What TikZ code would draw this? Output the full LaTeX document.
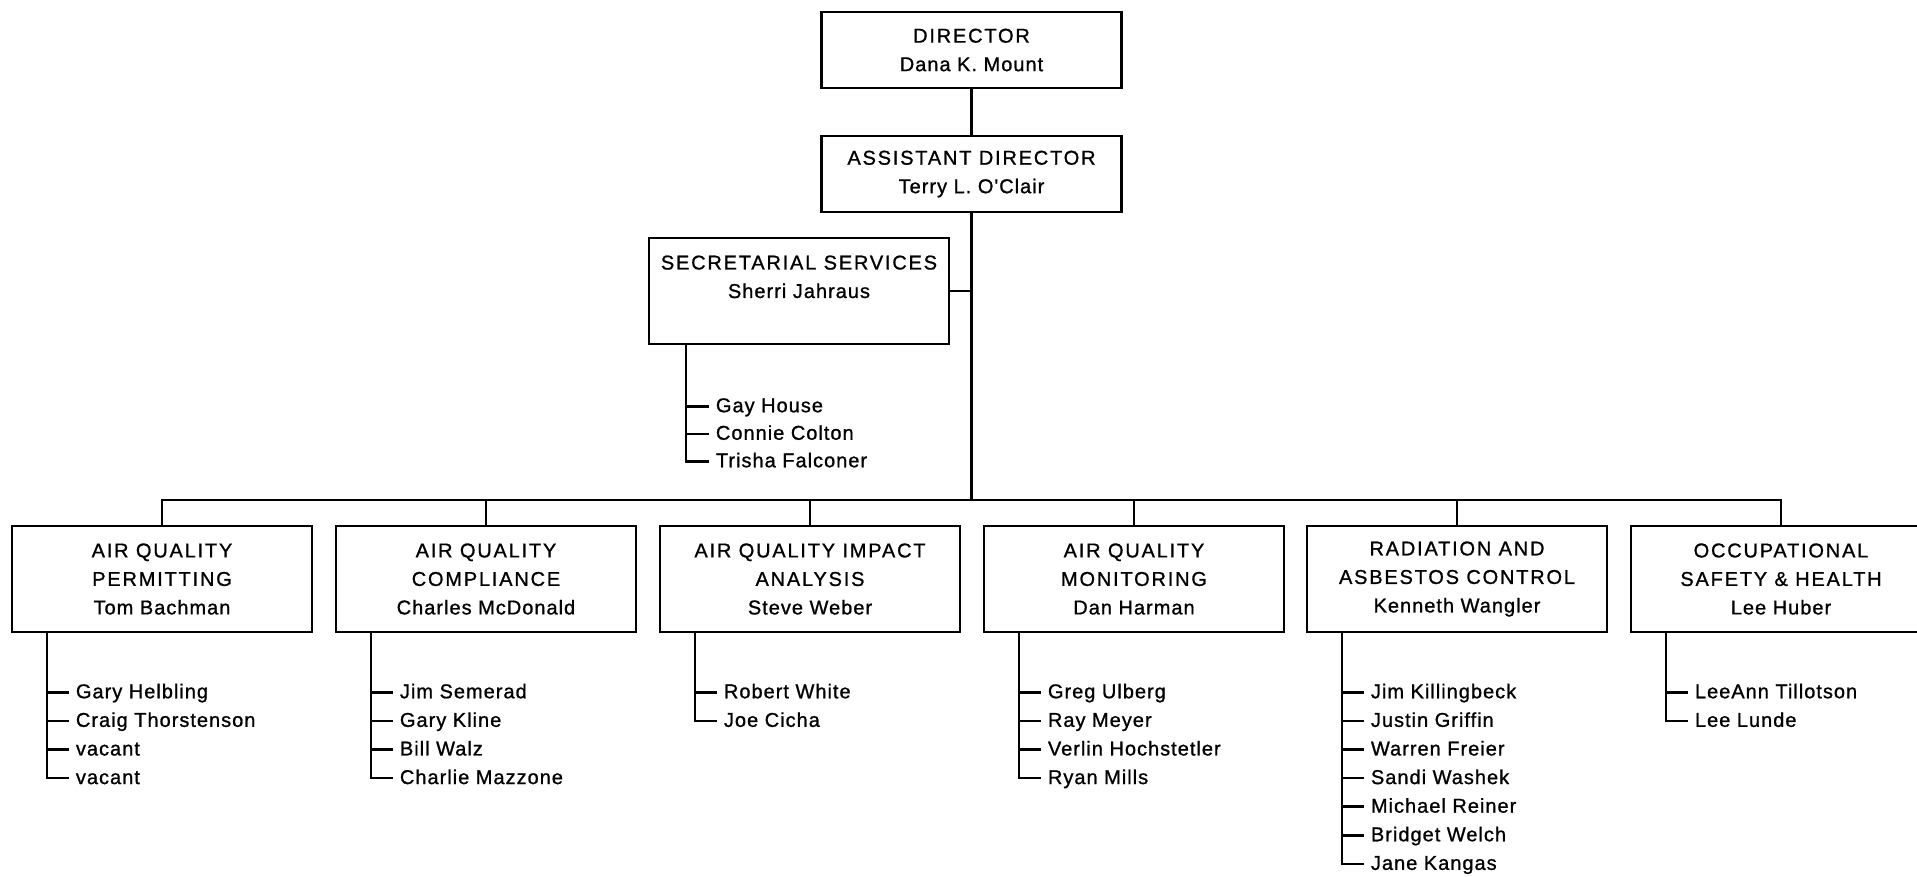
\documentclass[tikz,border=0pt]{standalone}
\usepackage{fontspec}
\setmainfont{Liberation Sans}
\newfontfamily\headfont[LetterSpace=9,FakeBold=1]{Liberation Sans}
\newfontfamily\namefont[LetterSpace=5,FakeBold=1]{Liberation Sans}
\usetikzlibrary{positioning,calc}

\newcommand\unitname[1]{{\headfont #1}}

\tikzset{
	unit/.style={draw, line width=2.5pt, minimum width=300pt, inner sep=0pt, align=center,
		font=\fontsize{20}{28.5}\selectfont\namefont},
	office/.style={unit, minimum height=76pt},
	dept/.style={unit, minimum height=106pt},
	staff/.style={anchor=west, inner xsep=7pt, inner ysep=0pt, text height=15pt, text depth=3pt,
		font=\fontsize{20}{24}\selectfont\namefont},
	wire/.style={line width=2.5pt}
}

\begin{document}
\begin{tikzpicture}[x=1pt, y=-1pt]
	\useasboundingbox[fill=white] (0,0) rectangle (1917,876);
	\clip (0,0) rectangle (1917,876);

	% top of the chart
	\node (dir) [office] at (971.5,50) {\unitname{DIRECTOR}\\Dana K. Mount};
	\node (asst) [office] at (971.5,174) {\unitname{ASSISTANT DIRECTOR}\\Terry L. O'Clair};
	\node (sec) [dept] at (799,291) {\unitname{SECRETARIAL SERVICES}\\Sherri Jahraus\\~};

	% divisions
	\node (perm) [dept] at (162,579) {\unitname{AIR QUALITY}\\\unitname{PERMITTING}\\Tom Bachman};
	\node (comp) [dept] at (486,579) {\unitname{AIR QUALITY}\\\unitname{COMPLIANCE}\\Charles McDonald};
	\node (impact) [dept] at (810,579) {\unitname{AIR QUALITY IMPACT}\\\unitname{ANALYSIS}\\Steve Weber};
	\node (monit) [dept] at (1134,579) {\unitname{AIR QUALITY}\\\unitname{MONITORING}\\Dan Harman};
	\node (rad) [dept] at (1457,579) {\unitname{RADIATION AND}\\\unitname{ASBESTOS CONTROL}\\Kenneth Wangler};
	\node (osh) [dept] at (1781,579) {\unitname{OCCUPATIONAL}\\\unitname{SAFETY \& HEALTH}\\Lee Huber};

	\coordinate (bus) at (971.5,500);
	\draw[wire] (dir) -- (asst);
	\draw[wire] (asst) -- (bus);
	\draw[wire] (sec.east) -- (sec.east -| asst.south);
	\draw[wire] (perm.north) -- (perm.north |- bus) -- (osh.north |- bus) -- (osh.north);
	\foreach \d in {comp,impact,monit,rad}
		\draw[wire] (\d.north |- bus) -- (\d.north);

	% staff lists
	\coordinate (sec-spine) at ($(sec.south west)+(38,0)$);
	\foreach \who [count=\i] in {Gay House, Connie Colton, Trisha Falconer}
		\node (sec-\i) [staff] at ($(sec-spine)+(23,33.5+27.5*\i)$) {\who};
	\draw[wire] (sec-spine) |- (sec-3.west);
	\foreach \i in {1,2}
		\draw[wire] (sec-spine |- sec-\i.west) -- (sec-\i.west);

	\coordinate (perm-spine) at ($(perm.south west)+(36,0)$);
	\foreach \who [count=\i] in {Gary Helbling, Craig Thorstenson, vacant, vacant}
		\node (perm-\i) [staff] at ($(perm-spine)+(22,30.4+28.6*\i)$) {\who};
	\draw[wire] (perm-spine) |- (perm-4.west);
	\foreach \i in {1,2,3}
		\draw[wire] (perm-spine |- perm-\i.west) -- (perm-\i.west);

	\coordinate (comp-spine) at ($(comp.south west)+(36,0)$);
	\foreach \who [count=\i] in {Jim Semerad, Gary Kline, Bill Walz, Charlie Mazzone}
		\node (comp-\i) [staff] at ($(comp-spine)+(22,30.4+28.6*\i)$) {\who};
	\draw[wire] (comp-spine) |- (comp-4.west);
	\foreach \i in {1,2,3}
		\draw[wire] (comp-spine |- comp-\i.west) -- (comp-\i.west);

	\coordinate (impact-spine) at ($(impact.south west)+(36,0)$);
	\foreach \who [count=\i] in {Robert White, Joe Cicha}
		\node (impact-\i) [staff] at ($(impact-spine)+(22,30.4+28.6*\i)$) {\who};
	\draw[wire] (impact-spine) |- (impact-2.west);
	\draw[wire] (impact-spine |- impact-1.west) -- (impact-1.west);

	\coordinate (monit-spine) at ($(monit.south west)+(36,0)$);
	\foreach \who [count=\i] in {Greg Ulberg, Ray Meyer, Verlin Hochstetler, Ryan Mills}
		\node (monit-\i) [staff] at ($(monit-spine)+(22,30.4+28.6*\i)$) {\who};
	\draw[wire] (monit-spine) |- (monit-4.west);
	\foreach \i in {1,2,3}
		\draw[wire] (monit-spine |- monit-\i.west) -- (monit-\i.west);

	\coordinate (rad-spine) at ($(rad.south west)+(36,0)$);
	\foreach \who [count=\i] in {Jim Killingbeck, Justin Griffin, Warren Freier, Sandi Washek,
			Michael Reiner, Bridget Welch, Jane Kangas}
		\node (rad-\i) [staff] at ($(rad-spine)+(22,30.4+28.6*\i)$) {\who};
	\draw[wire] (rad-spine) |- (rad-7.west);
	\foreach \i in {1,...,6}
		\draw[wire] (rad-spine |- rad-\i.west) -- (rad-\i.west);

	\coordinate (osh-spine) at ($(osh.south west)+(36,0)$);
	\foreach \who [count=\i] in {LeeAnn Tillotson, Lee Lunde}
		\node (osh-\i) [staff] at ($(osh-spine)+(22,30.4+28.6*\i)$) {\who};
	\draw[wire] (osh-spine) |- (osh-2.west);
	\draw[wire] (osh-spine |- osh-1.west) -- (osh-1.west);
\end{tikzpicture}
\end{document}
